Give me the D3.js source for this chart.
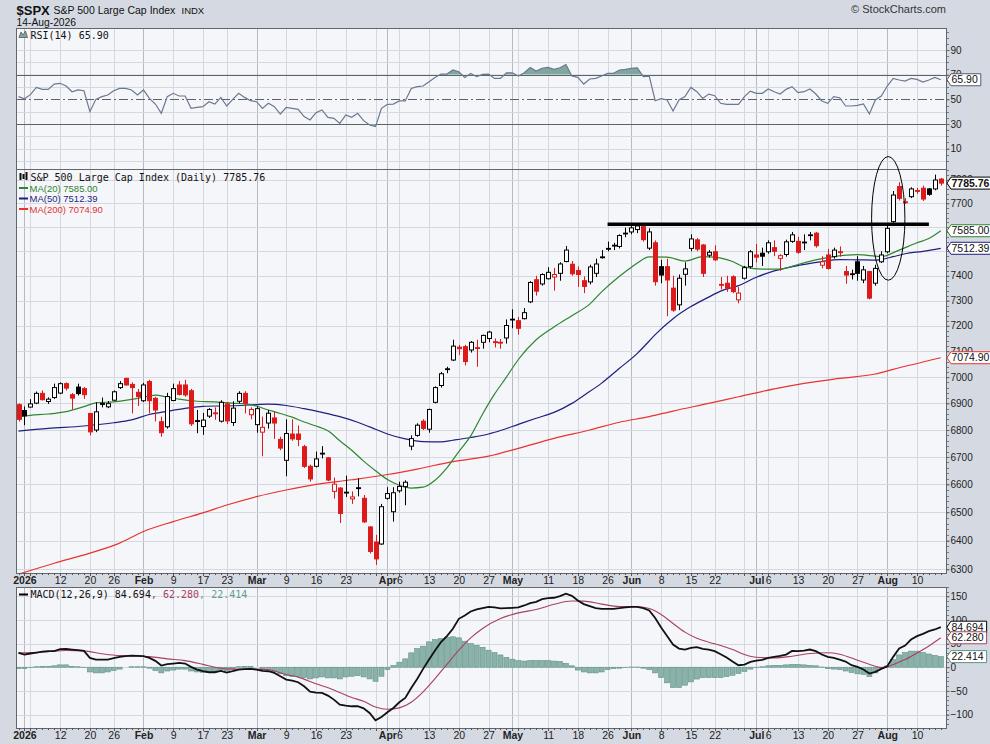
<!DOCTYPE html>
<html>
<head>
<meta charset="utf-8">
<title>$SPX daily</title>
<script src="https://cdn.jsdelivr.net/npm/d3@7"></script>
<style>
  body { margin: 0; background: #d5dae2; }
  svg { display: block; font-family: "Liberation Sans", Arial, sans-serif; }
  .mono { font-family: "DejaVu Sans Mono", "Liberation Mono", monospace; font-size: 10px; }
  .axis text { font-size: 10px; fill: #222; }
  .axis path { display: none; }
  .axis line { stroke: #666; }
</style>
</head>
<body>
<svg id="chart" width="990" height="744"></svg>
<script>
// ---------------- data ----------------
const holidays = ["2026-01-01", "2026-01-19", "2026-02-16", "2026-04-03", "2026-05-25", "2026-06-19", "2026-07-03"];
const firstSession = "2025-12-31";
const lastSession = "2026-08-14";
const priorClose = 6890;

const opens = [
  6895, 6873, 6886, 6901, 6938, 6907, 6922, 6939, 6975, 6933,
  6962, 6956, 6862, 6800, 6900, 6887, 6912, 6960, 6995, 6972,
  6942, 6910, 6983, 6919, 6831, 6812, 6911, 6970, 6970, 6948,
  6835, 6813, 6852, 6864, 6833, 6898, 6828, 6908, 6938, 6857,
  6820, 6792, 6826, 6845, 6765, 6688, 6785, 6785, 6738, 6666,
  6666, 6714, 6697, 6575, 6587, 6572, 6548, 6588, 6550, 6448,
  6395, 6388, 6550, 6502, 6577, 6592, 6740, 6780, 6833, 6803,
  6904, 6968, 7032, 7066, 7116, 7118, 7105, 7114, 7135, 7150,
  7137, 7135, 7152, 7226, 7220, 7228, 7295, 7384, 7367, 7388,
  7395, 7410, 7458, 7447, 7421, 7380, 7375, 7410, 7477, 7512,
  7524, 7520, 7574, 7580, 7590, 7602, 7513, 7535, 7437, 7437,
  7350, 7283, 7406, 7512, 7547, 7526, 7484, 7498, 7365, 7370,
  7396, 7303, 7390, 7437, 7485, 7492, 7498, 7515, 7471, 7487,
  7541, 7541, 7538, 7566, 7575, 7443, 7485, 7478, 7498, 7417,
  7408, 7457, 7383, 7417, 7370, 7457, 7498, 7623, 7771, 7706,
  7728, 7754, 7764, 7761, 7761, 7803
];
const highs = [
  6900, 6888, 6916, 6945, 6949, 6923, 6975, 6980, 6980, 6939,
  6975, 6962, 6863, 6904, 6922, 6909, 6949, 6985, 6998, 6980,
  6955, 6978, 6990, 6925, 6850, 6940, 6975, 6985, 6990, 6955,
  6875, 6864, 6882, 6885, 6912, 6905, 6908, 6946, 6946, 6885,
  6888, 6850, 6875, 6870, 6775, 6840, 6840, 6817, 6745, 6672,
  6720, 6740, 6700, 6625, 6590, 6632, 6575, 6622, 6562, 6450,
  6420, 6530, 6590, 6590, 6610, 6615, 6780, 6825, 6840, 6880,
  6965, 7020, 7040, 7145, 7125, 7125, 7140, 7145, 7165, 7180,
  7150, 7148, 7225, 7265, 7235, 7270, 7378, 7400, 7410, 7435,
  7432, 7455, 7522, 7460, 7438, 7398, 7445, 7470, 7505, 7540,
  7535, 7570, 7598, 7610, 7615, 7605, 7595, 7545, 7465, 7470,
  7400, 7405, 7455, 7570, 7555, 7530, 7505, 7525, 7395, 7400,
  7402, 7355, 7440, 7505, 7530, 7515, 7545, 7545, 7488, 7548,
  7580, 7560, 7570, 7580, 7580, 7480, 7510, 7515, 7520, 7440,
  7425, 7480, 7440, 7420, 7445, 7500, 7610, 7752, 7790, 7722,
  7768, 7765, 7775, 7765, 7822, 7808
];
const lows = [
  6832, 6818, 6884, 6897, 6911, 6898, 6917, 6935, 6949, 6877,
  6930, 6917, 6780, 6792, 6885, 6882, 6910, 6955, 6968, 6862,
  6890, 6905, 6862, 6832, 6775, 6805, 6908, 6930, 6925, 6815,
  6788, 6782, 6845, 6838, 6828, 6822, 6815, 6900, 6862, 6840,
  6790, 6703, 6805, 6767, 6725, 6630, 6760, 6740, 6660, 6610,
  6662, 6695, 6612, 6549, 6462, 6555, 6530, 6557, 6462, 6355,
  6315, 6385, 6545, 6467, 6570, 6525, 6725, 6775, 6800, 6790,
  6900, 6960, 7015, 7062, 7085, 7045, 7095, 7040, 7110, 7135,
  7115, 7110, 7130, 7190, 7165, 7225, 7290, 7320, 7360, 7385,
  7340, 7380, 7455, 7400, 7355, 7330, 7365, 7395, 7470, 7500,
  7505, 7512, 7558, 7570, 7575, 7540, 7505, 7360, 7370, 7238,
  7255, 7262, 7360, 7500, 7500, 7395, 7475, 7460, 7345, 7335,
  7330, 7289, 7385, 7430, 7455, 7440, 7490, 7480, 7420, 7478,
  7535, 7490, 7505, 7545, 7515, 7430, 7425, 7470, 7478, 7368,
  7385, 7380, 7370, 7305, 7360, 7452, 7492, 7615, 7712, 7698,
  7722, 7740, 7710, 7732, 7755, 7775
];
const closes = [
  6840, 6853, 6898, 6938, 6914, 6916, 6960, 6975, 6958, 6920,
  6937, 6933, 6793, 6868, 6896, 6899, 6944, 6975, 6970, 6960,
  6926, 6970, 6910, 6875, 6790, 6926, 6956, 6934, 6932, 6823,
  6832, 6837, 6877, 6861, 6904, 6834, 6882, 6938, 6900, 6877,
  6880, 6810, 6863, 6826, 6733, 6787, 6767, 6765, 6666, 6620,
  6693, 6712, 6616, 6601, 6496, 6570, 6555, 6587, 6466, 6362,
  6336, 6520, 6567, 6570, 6593, 6608, 6768, 6818, 6806, 6877,
  6960, 7013, 7030, 7120, 7110, 7060, 7135, 7112, 7162, 7175,
  7135, 7133, 7201, 7224, 7190, 7252, 7373, 7338, 7405, 7414,
  7405, 7448, 7505, 7408, 7405, 7357, 7436, 7448, 7475, 7510,
  7525, 7565, 7575, 7597, 7605, 7548, 7580, 7376, 7403, 7383,
  7262, 7390, 7428, 7551, 7509, 7410, 7496, 7465, 7363, 7350,
  7336, 7330, 7433, 7498, 7476, 7480, 7535, 7500, 7482, 7539,
  7568, 7496, 7536, 7568, 7523, 7457, 7430, 7505, 7496, 7403,
  7406, 7410, 7424, 7310, 7430, 7485, 7595, 7735, 7721, 7704,
  7761, 7752, 7718, 7738, 7799, 7785.76
];

// moving averages, sampled along the curve: [session number, value]
const ma20 = [
  [0, 6850], [2, 6855], [5, 6860], [8, 6869], [11, 6888], [13, 6902], [16, 6906], [19, 6915],
  [22, 6928], [23, 6931], [25, 6924], [27, 6916], [30, 6908], [33, 6906], [36, 6901], [39, 6895],
  [42, 6875], [44, 6862], [46, 6848], [48, 6830], [50, 6815], [52, 6797], [54, 6760], [56, 6725],
  [58, 6685], [60, 6650], [62, 6618], [64, 6597], [66, 6587], [68, 6590], [70, 6615], [72, 6660],
  [74, 6720], [76, 6778], [78, 6860], [80, 6935], [82, 7000], [84, 7068], [87, 7145], [90, 7195],
  [93, 7240], [96, 7286], [98, 7335], [101, 7398], [103, 7435], [104, 7452], [106, 7477], [109, 7476],
  [112, 7460], [115, 7478], [117, 7476], [120, 7458], [122, 7436], [125, 7427], [128, 7427], [131, 7446],
  [134, 7465], [137, 7478], [141, 7486], [144, 7480], [145, 7478], [148, 7505], [151, 7535], [153, 7553],
  [155, 7585.00]
];
const ma50 = [
  [0, 6796], [5, 6806], [11, 6815], [16, 6827], [19, 6838], [22, 6858], [25, 6870], [28, 6881],
  [31, 6889], [36, 6891], [39, 6894], [42, 6897], [45, 6892], [48, 6880], [51, 6866], [54, 6850],
  [57, 6829], [60, 6803], [62, 6785], [65, 6767], [68, 6757], [71, 6756], [73, 6762], [76, 6772],
  [79, 6785], [81, 6798], [84, 6821], [87, 6844], [90, 6866], [93, 6900], [95, 6930], [98, 6977],
  [101, 7034], [104, 7092], [106, 7140], [107, 7165], [110, 7228], [113, 7276], [116, 7314], [118, 7338],
  [121, 7360], [124, 7394], [127, 7420], [130, 7437], [132, 7446], [135, 7458], [138, 7466], [141, 7465],
  [144, 7464], [145, 7467], [147, 7478], [149, 7490], [152, 7500], [155, 7512.39]
];
const ma200 = [
  [0, 6283], [6, 6321], [12, 6356], [17, 6391], [21, 6432], [26, 6467], [31, 6498], [35, 6526],
  [40, 6556], [45, 6580], [50, 6600], [56, 6617], [62, 6636], [67, 6656], [73, 6683], [79, 6703],
  [84, 6732], [90, 6769], [96, 6800], [101, 6829], [106, 6850], [110, 6871], [116, 6900], [121, 6925],
  [127, 6955], [132, 6976], [138, 6995], [144, 7012], [147, 7030], [155, 7074.90]
];

const rsi = [
  52.2, 50.5, 53.8, 59.7, 58.1, 58.1, 62.4, 63.0, 60.8, 56.2,
  57.6, 57.0, 40.0, 50.0, 52.2, 53.5, 57.0, 58.9, 58.9, 57.6,
  53.5, 57.6, 50.8, 46.2, 38.7, 52.2, 54.9, 52.7, 52.7, 42.7,
  43.5, 44.1, 48.1, 46.2, 51.6, 44.6, 50.0, 54.9, 51.6, 48.9,
  48.1, 42.7, 46.8, 44.1, 38.1, 43.5, 42.7, 41.9, 36.0, 33.3,
  39.2, 41.4, 35.4, 34.6, 30.5, 37.3, 35.4, 38.7, 32.7, 29.2,
  27.9, 42.7, 46.0, 46.2, 48.7, 48.7, 58.9, 60.3, 60.8, 64.3,
  67.8, 70.5, 70.5, 73.8, 72.4, 67.8, 71.1, 68.4, 70.2, 70.5,
  67.0, 67.0, 71.6, 71.6, 68.9, 71.6, 75.9, 72.9, 75.1, 75.9,
  74.3, 75.6, 78.3, 68.9, 67.8, 62.4, 66.5, 67.0, 68.9, 71.1,
  71.1, 73.8, 74.3, 75.1, 75.6, 68.4, 68.9, 48.9, 50.5, 49.5,
  40.6, 49.5, 52.2, 59.7, 56.2, 50.8, 54.3, 53.0, 46.8, 46.0,
  46.0, 46.0, 52.2, 56.7, 54.9, 54.9, 58.4, 56.2, 54.3, 58.1,
  60.3, 55.4, 56.2, 58.4, 54.3, 48.7, 46.8, 52.2, 51.3, 44.6,
  44.6, 45.1, 46.2, 38.1, 49.5, 52.7, 60.8, 67.0, 65.7, 64.8,
  67.0, 66.2, 64.0, 65.7, 67.8, 65.90
];

const macd = [
  30.4, 26.8, 29.0, 31.1, 33.2, 33.9, 33.9, 38.1, 38.8, 37.4,
  36.0, 34.6, 19.8, 16.2, 16.2, 16.2, 19.1, 21.9, 23.3, 24.7,
  24.0, 23.3, 19.8, 13.4, 3.5, 6.4, 7.8, 9.2, 7.8, 0.7,
  -4.9, -8.5, -10.6, -10.6, -7.8, -11.3, -8.5, -4.9, -4.2, -3.5,
  -4.9, -7.8, -8.5, -12.0, -19.1, -26.1, -28.2, -31.8, -40.3, -51.6,
  -53.7, -54.4, -60.0, -68.5, -79.1, -81.2, -82.6, -82.6, -86.9, -96.8,
  -112.3, -105.2, -95.3, -86.2, -74.2, -65.0, -43.8, -24.7, -3.5, 16.2,
  35.3, 53.0, 65.7, 81.2, 102.4, 109.5, 117.9, 122.2, 125.0, 127.8,
  126.4, 124.3, 125.0, 125.7, 126.4, 130.6, 135.6, 138.4, 144.1, 146.2,
  146.9, 150.4, 155.4, 151.1, 141.2, 133.5, 129.2, 125.0, 123.6, 123.6,
  123.6, 125.0, 126.4, 127.8, 127.8, 125.0, 120.0, 104.0, 84.0, 66.0,
  48.0, 39.5, 37.4, 41.0, 42.4, 38.8, 37.4, 33.9, 27.5, 20.5,
  12.0, 4.2, 5.6, 11.3, 14.1, 15.5, 19.8, 21.9, 24.0, 26.8,
  34.6, 33.9, 35.3, 37.4, 33.9, 26.8, 21.9, 19.8, 16.2, 12.0,
  4.2, 0.7, -4.9, -13.4, -9.9, -3.5, 2.1, 21.9, 39.5, 45.9,
  58.6, 65.7, 70.6, 76.3, 79.8, 84.694
];
// signal line, sampled: [session number, value]
const macdSignal = [
  [0, 30.4], [3, 30.8], [5, 33.0], [8, 35.5], [11, 34.5], [14, 28.5], [17, 24.5], [19, 24.0],
  [22, 22.5], [25, 17.7], [28, 14.0], [31, 6.0], [33, 0.0], [36, -4.0], [39, -4.0], [42, -5.5],
  [45, -15.5], [47, -21], [50, -35], [53, -48], [56, -64], [58, -72], [60, -84], [62, -89],
  [64, -86], [66, -74], [68, -52], [70, -24], [72, 6], [74, 36], [76, 62], [78, 82],
  [81, 103], [84, 115], [87, 122], [90, 133], [93, 140], [95, 139.8], [98, 133.5], [101, 128.5],
  [104, 127.8], [106, 124.3], [108, 111.6], [110, 92.5], [112, 74.2], [114, 61.4], [116, 53.0], [118, 46],
  [120, 37.4], [122, 27], [124, 21], [127, 19.8], [130, 23.3], [133, 29], [136, 30.5], [138, 27.5],
  [141, 14.8], [144, 2.1], [145, -0.7], [146, 0.7], [147, 5.6], [149, 16.2], [151, 30], [153, 45],
  [155, 62.28]
];
const macdHist = [
  -3, -3, -1, 1, 2, 2, 3, 5, 5, 2,
  1, -1, -10, -12, -12, -10, -7, -4, 0, 1,
  1, 1, -2, -7, -12, -8, -6, -4, -4, -8,
  -10, -11, -11, -9, -6, -8, -4, 1, 2, 2,
  0, -4, -6, -9, -14, -18, -20, -20, -22, -24.7,
  -22.6, -20.5, -22.6, -22.6, -24.7, -20.5, -19.1, -17.7, -20.5, -24.7,
  -29.7, -19.1, -4.9, 3.5, 10.6, 17.7, 30.4, 39.5, 44.5, 53.7,
  58.6, 60.7, 63.6, 64.3, 62.1, 55.1, 50.1, 45.9, 42, 36,
  31, 26, 21, 17, 14, 13, 14, 14, 14, 14,
  13, 12, 8, 3, -6, -10, -12, -12, -10, -5,
  -3, -2, -1, 0.5, 0.5, -2, -5, -12, -22, -33,
  -43, -43, -38, -31, -25, -22, -22, -22, -22, -20,
  -17, -13, -9, -4, -1, 1, 3, 4, 4, 5,
  6, 6, 5, 4, 3, 0.5, -3, -4, -5, -8,
  -11, -14, -15, -20, -12, -3, 3, 16, 26, 31,
  34, 34, 31, 28, 25, 22.414
];

// date axis labels
const tickDates = ["2026-01-02", "2026-01-12", "2026-01-20", "2026-01-26", "2026-02-02", "2026-02-09", "2026-02-17",
  "2026-02-23", "2026-03-02", "2026-03-09", "2026-03-16", "2026-03-23", "2026-04-01", "2026-04-06", "2026-04-13",
  "2026-04-20", "2026-04-27", "2026-05-01", "2026-05-11", "2026-05-18", "2026-05-26", "2026-06-01", "2026-06-08",
  "2026-06-15", "2026-06-22", "2026-07-01", "2026-07-06", "2026-07-13", "2026-07-20", "2026-07-27", "2026-08-03",
  "2026-08-10"];
const tickTexts = ["2026", "12", "20", "26", "Feb", "9", "17", "23", "Mar", "9", "16", "23", "Apr", "6", "13",
  "20", "27", "May", "11", "18", "26", "Jun", "8", "15", "22", "Jul", "6", "13", "20", "27", "Aug", "10"];
// price grid every 100; the 7500/7600 labels sit fully behind the MA tags, so only the grid keeps them
const priceGrid = [6300, 6400, 6500, 6600, 6700, 6800, 6900, 7000, 7100, 7200, 7300, 7400, 7500, 7600, 7700, 7800];
const priceLabels = [6300, 6400, 6500, 6600, 6700, 6800, 6900, 7000, 7100, 7200, 7300, 7400, 7700, 7800];
const rsiTicks = [10, 30, 50, 70, 90];
const macdTicks = [-100, -50, 0, 50, 100, 150];

// annotations drawn on the chart
const resistance = { from: "2026-05-26", to: "2026-08-12", level: 7612 };
const breakoutOval = { day: "2026-08-03", top: 7900, bottom: 7382, halfDays: 2.8 };

// ---------------- layout ----------------
const W = 990, H = 744;
const L = 16.5, R = 946.5;
const rsiTop = 28, rsiBot = 169;
const pTop = 169, pBot = 573;
const mTop = 587, mBot = 728;

const colors = {
  panel: "#f5f6fa", grid: "#d5d8df", gridMonth: "#b6bac3", border: "#62666e",
  up: "#000", down: "#dd1a1a", ma20: "#2f862f", ma50: "#1f1f80", ma200: "#e8332f",
  rsi: "#6b7891", rsiFill: "#7fa7a0", macd: "#111", signal: "#a8405e",
  hist: "#8bb2aa", histEdge: "#5e9188"
};

// trading sessions: weekdays minus exchange holidays
const fmt = d3.utcFormat("%Y-%m-%d");
const days = d3.utcDays(new Date(firstSession + "T00:00Z"), d3.utcDay.offset(new Date(lastSession + "T00:00Z"), 1))
  .filter(d => d.getUTCDay() % 6 !== 0 && !holidays.includes(fmt(d)))
  .map(fmt);

const candles = days.map((d, i) => ({
  date: d, o: opens[i], h: highs[i], l: lows[i], c: closes[i],
  prev: i ? closes[i - 1] : priorClose
}));

// gridlines on the first session of each week and of each month
const gridDays = [], monthStarts = new Set();
days.forEach((d, i) => {
  if (i === 0) return;
  const cur = new Date(d + "T00:00Z"), prev = new Date(days[i - 1] + "T00:00Z");
  const newMonth = cur.getUTCMonth() !== prev.getUTCMonth();
  if (newMonth || cur.getUTCDay() < prev.getUTCDay()) gridDays.push(d);
  if (newMonth) monthStarts.add(d);
});

// ---------------- scales ----------------
const x = d3.scalePoint().domain(days).range([18.5, 940.8]);
const step = x.step();
const yP = d3.scaleLog().domain([6300, 7700]).range([569.3, 203.3]);
const yR = d3.scaleLinear().domain([30, 70]).range([124, 74.7]);
const yM = d3.scaleLinear().domain([-100, 150]).range([714.5, 596.3]);
const px = v => Math.round(v) + 0.5;

const svg = d3.select("#chart");
svg.append("rect").attr("width", W).attr("height", H).attr("fill", "#d5dae2");
const defs = svg.append("defs");

function clip(id, top, bot) {
  defs.append("clipPath").attr("id", id)
    .append("rect").attr("x", L).attr("y", top).attr("width", R - L).attr("height", bot - top);
}
clip("clipR", rsiTop, rsiBot);
clip("clipP", pTop, pBot);
clip("clipM", mTop, mBot);
clip("clipR70", rsiTop, yR(70));
clip("clipR30", yR(30), rsiBot);

// panel backgrounds and vertical grid
[[rsiTop, rsiBot], [pTop, pBot], [mTop, mBot]].forEach(([t, b]) => {
  svg.append("rect").attr("x", L).attr("y", t).attr("width", R - L).attr("height", b - t).attr("fill", colors.panel);
  svg.append("g").selectAll("line").data(gridDays).join("line")
    .attr("x1", d => px(x(d))).attr("x2", d => px(x(d)))
    .attr("y1", t).attr("y2", b)
    .attr("stroke", d => monthStarts.has(d) ? colors.gridMonth : colors.grid)
    .attr("shape-rendering", "crispEdges");
});

function hGrid(values, scale, stroke) {
  svg.append("g").selectAll("line").data(values).join("line")
    .attr("x1", L).attr("x2", R)
    .attr("y1", d => px(scale(d))).attr("y2", d => px(scale(d)))
    .attr("stroke", stroke).attr("shape-rendering", "crispEdges");
}

// ---------------- RSI panel ----------------
hGrid([0, 10, 20, 40, 60, 80, 90], yR, colors.grid);
hGrid([30, 70], yR, "#5e6168");
svg.append("line").attr("x1", L).attr("x2", R).attr("y1", px(yR(50))).attr("y2", px(yR(50)))
  .attr("stroke", "#5e6168").attr("stroke-dasharray", "9,3,2,3").attr("shape-rendering", "crispEdges");

const rsiX = (d, i) => x(days[i]);
svg.append("path").datum(rsi).attr("clip-path", "url(#clipR70)")
  .attr("fill", colors.rsiFill)
  .attr("d", d3.area().x(rsiX).y0(yR(70)).y1(d => yR(d)));
svg.append("path").datum(rsi).attr("clip-path", "url(#clipR30)")
  .attr("fill", colors.rsiFill)
  .attr("d", d3.area().x(rsiX).y0(yR(30)).y1(d => yR(d)));
svg.append("path").datum(rsi).attr("clip-path", "url(#clipR)")
  .attr("fill", "none").attr("stroke", colors.rsi).attr("stroke-width", 1.2)
  .attr("d", d3.line().x(rsiX).y(d => yR(d)));

// ---------------- price panel ----------------
hGrid(priceGrid, yP, colors.grid);

const pg = svg.append("g").attr("clip-path", "url(#clipP)");
const maLine = d3.line().x(d => x(days[d[0]])).y(d => yP(d[1])).curve(d3.curveMonotoneX);
[[ma200, colors.ma200], [ma50, colors.ma50], [ma20, colors.ma20]].forEach(([s, c]) => {
  pg.append("path").datum(s).attr("fill", "none").attr("stroke", c).attr("stroke-width", 1.2).attr("d", maLine);
});

// candlesticks: hollow when close > open, red when close < previous close
const candleColor = d => d.c >= d.prev ? colors.up : colors.down;
const cg = pg.append("g").selectAll("g").data(candles).join("g");
cg.append("line")
  .attr("x1", d => Math.round(x(d.date)) + 0.5).attr("x2", d => Math.round(x(d.date)) + 0.5)
  .attr("y1", d => yP(d.h)).attr("y2", d => yP(d.l))
  .attr("stroke", candleColor);
cg.append("rect")
  .attr("x", d => Math.round(x(d.date)) - 1.5)
  .attr("width", 4)
  .attr("y", d => yP(Math.max(d.o, d.c)))
  .attr("height", d => Math.max(0.8, Math.abs(yP(d.o) - yP(d.c))))
  .attr("fill", d => d.c > d.o ? "#fff" : candleColor(d))
  .attr("stroke", candleColor);

// resistance line
svg.append("line")
  .attr("x1", x(resistance.from)).attr("x2", x(resistance.to))
  .attr("y1", yP(resistance.level)).attr("y2", yP(resistance.level))
  .attr("stroke", "#000").attr("stroke-width", 3.5);

// ---------------- MACD panel ----------------
hGrid(macdTicks, yM, colors.grid);
const mg = svg.append("g").attr("clip-path", "url(#clipM)");
mg.selectAll("rect").data(macdHist).join("rect")
  .attr("x", (d, i) => x(days[i]) - step * 0.42)
  .attr("width", step * 0.84)
  .attr("y", d => yM(Math.max(0, d)))
  .attr("height", d => Math.abs(yM(d) - yM(0)))
  .attr("fill", colors.hist).attr("stroke", colors.histEdge).attr("stroke-width", 0.6);
mg.append("path").datum(macdSignal).attr("fill", "none").attr("stroke", colors.signal).attr("stroke-width", 1.1)
  .attr("d", d3.line().x(d => x(days[d[0]])).y(d => yM(d[1])).curve(d3.curveMonotoneX));
mg.append("path").datum(macd).attr("fill", "none").attr("stroke", colors.macd).attr("stroke-width", 1.8)
  .attr("d", d3.line().x((d, i) => x(days[i])).y(d => yM(d)));

// ---------------- borders, axes ----------------
[[rsiTop, rsiBot], [pTop, pBot], [mTop, mBot]].forEach(([t, b]) => {
  svg.append("rect").attr("x", L).attr("y", t).attr("width", R - L).attr("height", b - t)
    .attr("fill", "none").attr("stroke", colors.border).attr("shape-rendering", "crispEdges");
});

// minor ticks along the right edge
function minorTicks(scale, lo, hi, every) {
  svg.append("g").selectAll("line").data(d3.range(lo, hi + every / 2, every)).join("line")
    .attr("x1", R).attr("x2", R + 2)
    .attr("y1", d => px(scale(d))).attr("y2", d => px(scale(d)))
    .attr("stroke", "#777").attr("shape-rendering", "crispEdges");
}
minorTicks(yP, 6300, 7840, 20);
minorTicks(yR, 0, 105, 5);
minorTicks(yM, -120, 170, 10);

function rightAxis(scale, values, fmtFn) {
  svg.append("g").attr("class", "axis").attr("transform", `translate(${R},0)`)
    .call(d3.axisRight(scale).tickValues(values).tickFormat(fmtFn).tickSize(3).tickPadding(1));
}
rightAxis(yP, priceLabels, d3.format("d"));
rightAxis(yR, rsiTicks, d3.format("d"));
rightAxis(yM, macdTicks, d3.format("d"));

// little day ticks under the panels, then the date labels
[pBot, mBot].forEach(b => {
  svg.append("g").selectAll("line").data(days).join("line")
    .attr("x1", d => px(x(d))).attr("x2", d => px(x(d)))
    .attr("y1", b).attr("y2", d => b + (gridDays.includes(d) ? 3 : 2))
    .attr("stroke", "#555").attr("shape-rendering", "crispEdges");
  const ax = svg.append("g").attr("class", "axis").attr("transform", `translate(0,${b})`)
    .call(d3.axisBottom(x).tickValues(tickDates).tickFormat((d, i) => tickTexts[i]).tickSize(0).tickPadding(3.5));
  ax.selectAll("text").style("font-size", "10.5px").style("fill", "#222")
    .style("font-weight", (d, i) => isNaN(+tickTexts[i]) || tickTexts[i] === "2026" ? "bold" : null);
});

// oval over the breakout (spills into the RSI panel like the original)
const ovalTop = yP(breakoutOval.top), ovalBot = yP(breakoutOval.bottom);
svg.append("ellipse")
  .attr("cx", x(breakoutOval.day) + 1)
  .attr("cy", (ovalTop + ovalBot) / 2)
  .attr("rx", breakoutOval.halfDays * step)
  .attr("ry", (ovalBot - ovalTop) / 2)
  .attr("fill", "none").attr("stroke", "#000").attr("stroke-width", 1);

// value tags on the right edge
function tag(yv, text, stroke, bold) {
  const g = svg.append("g").attr("transform", `translate(${R},${yv})`);
  const t = g.append("text").attr("x", 5).attr("y", 3.7).text(text)
    .style("font-size", "10.5px").style("font-weight", bold ? "bold" : null).attr("fill", "#111");
  const w = t.node().getComputedTextLength() + 8;
  g.insert("path", "text")
    .attr("d", `M0.5,0 L4.5,-6 H${w} V6 H4.5 Z`)
    .attr("fill", "#fff").attr("stroke", stroke);
}
tag(yR(rsi[rsi.length - 1]), "65.90", "#555a6e");
tag(yP(closes[closes.length - 1]), "7785.76", "#000", true);
tag(yP(ma20[ma20.length - 1][1]), "7585.00", colors.ma20);
tag(yP(ma50[ma50.length - 1][1]), "7512.39", colors.ma50);
tag(yP(ma200[ma200.length - 1][1]), "7074.90", colors.ma200);
tag(yM(macd[macd.length - 1]), "84.694", "#000");
tag(yM(macdSignal[macdSignal.length - 1][1]), "62.280", colors.signal);
tag(yM(macdHist[macdHist.length - 1]), "22.414", colors.histEdge);

// ---------------- legends ----------------
// RSI icon
svg.append("path").attr("d", "M19,37.5 L21,32 L23,35 L25.5,31 L27.5,37.5 Z")
  .attr("fill", colors.rsiFill).attr("stroke", "#555").attr("stroke-width", 0.8);
svg.append("text").attr("class", "mono").attr("x", 30.5).attr("y", 38.5).attr("fill", "#111").text("RSI(14) 65.90");

// price legend: small candle icon + lines
[[19.5, 173, 7], [22.5, 174, 5], [25.5, 172, 8]].forEach(([cx, cy, hgt]) => {
  svg.append("rect").attr("x", cx).attr("y", cy).attr("width", 2).attr("height", hgt).attr("fill", "#111");
});
svg.append("text").attr("class", "mono").attr("x", 30.5).attr("y", 180.5).attr("fill", "#111")
  .text("S&P 500 Large Cap Index (Daily) 7785.76");
[["MA(20) 7585.00", colors.ma20, 191.5], ["MA(50) 7512.39", colors.ma50, 202], ["MA(200) 7074.90", colors.ma200, 212.5]]
  .forEach(([t, c, yy]) => {
    svg.append("line").attr("x1", 19).attr("x2", 28).attr("y1", yy - 3.5).attr("y2", yy - 3.5)
      .attr("stroke", c).attr("stroke-width", 2);
    svg.append("text").attr("x", 29.5).attr("y", yy).attr("fill", c).style("font-size", "9.5px").text(t);
  });

// MACD legend
svg.append("line").attr("x1", 19).attr("x2", 28).attr("y1", 594.5).attr("y2", 594.5).attr("stroke", "#000").attr("stroke-width", 2);
const ml = svg.append("text").attr("class", "mono").attr("x", 30.5).attr("y", 597.5);
ml.append("tspan").attr("fill", "#111").text("MACD(12,26,9) 84.694");
ml.append("tspan").attr("fill", colors.signal).text(", 62.280");
ml.append("tspan").attr("fill", "#5f9e96").text(", 22.414");

// ---------------- header ----------------
svg.append("text").attr("x", 16.5).attr("y", 14.5).style("font-size", "13px").style("font-weight", "bold")
  .attr("fill", "#111").text("$SPX");
svg.append("text").attr("x", 53.5).attr("y", 14).style("font-size", "10.5px").attr("fill", "#111")
  .text("S&P 500 Large Cap Index");
svg.append("text").attr("x", 181.5).attr("y", 14).style("font-size", "9.5px").attr("fill", "#111").text("INDX");
svg.append("text").attr("x", 16.5).attr("y", 26).style("font-size", "10.3px").attr("fill", "#111").text("14-Aug-2026");
svg.append("text").attr("x", 946).attr("y", 13).attr("text-anchor", "end").style("font-size", "11px")
  .attr("fill", "#333").text("\u00a9 StockCharts.com");
</script>
</body>
</html>
